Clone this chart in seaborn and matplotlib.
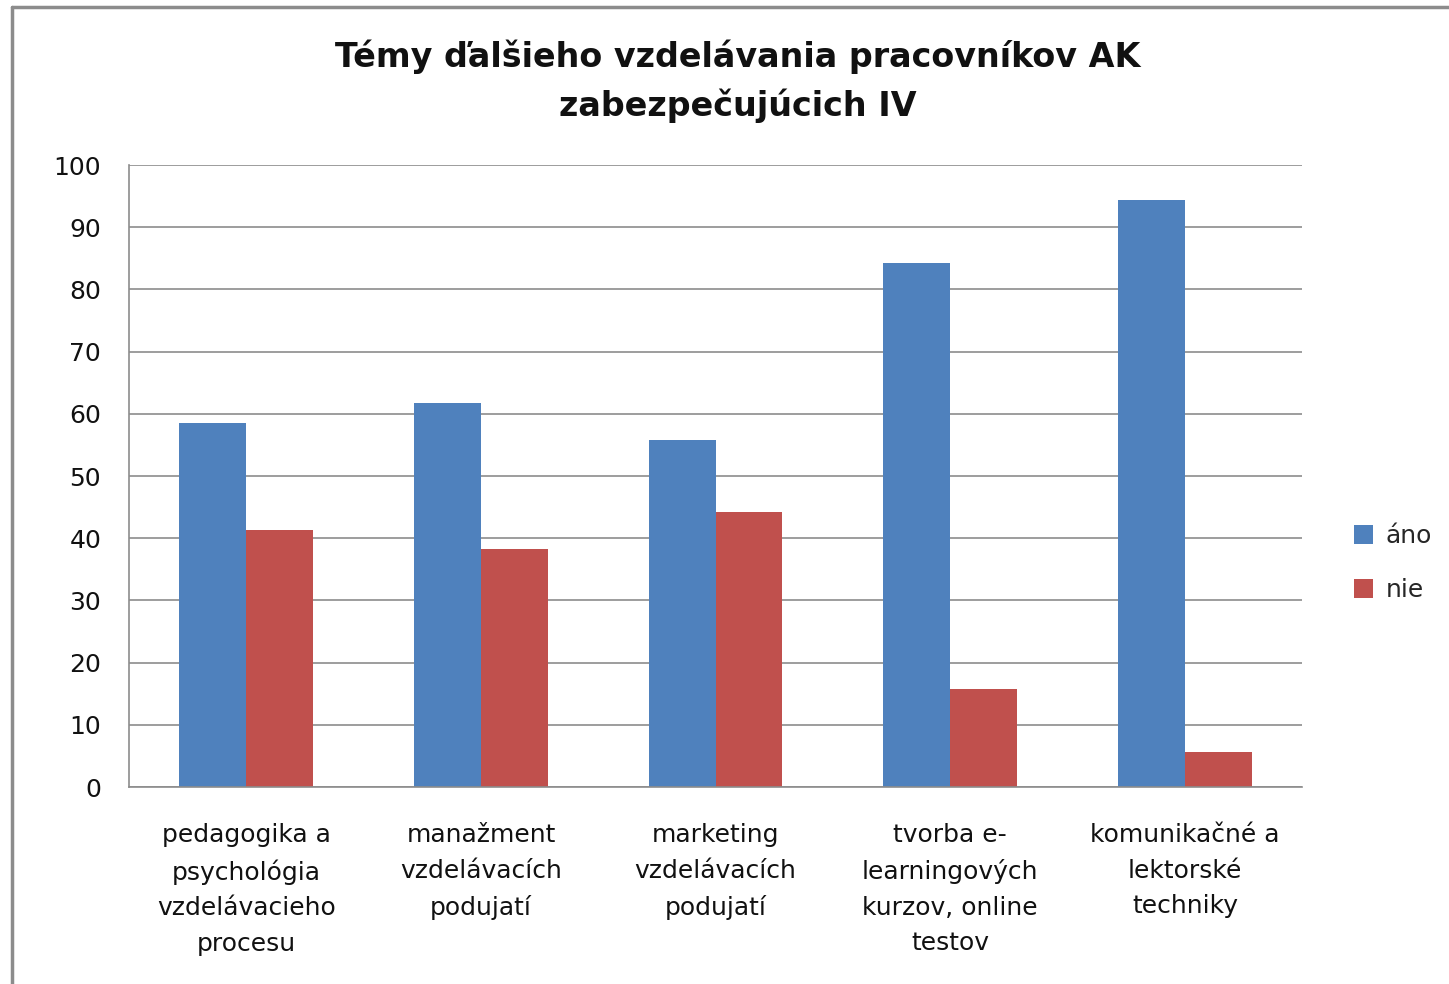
import numpy as np
import pandas as pd
import matplotlib.pyplot as plt
import seaborn as sns

categories = [
    "pedagogika a\npsychológia\nvzdelávacieho\nprocesu",
    "manažment\nvzdelávacích\npodujatí",
    "marketing\nvzdelávacích\npodujatí",
    "tvorba e-\nlearningových\nkurzov, online\ntestov",
    "komunikačné a\nlektorské\ntechniky",
]
ano = [58.6, 61.8, 55.8, 84.2, 94.3]
nie = [41.4, 38.2, 44.2, 15.8, 5.7]
series = ["áno", "nie"]
yticks = list(range(0, 101, 10))

df = pd.DataFrame({
    "kategoria": categories * 2,
    "hodnota": ano + nie,
    "odpoved": [series[0]] * len(ano) + [series[1]] * len(nie),
})

sns.set_style("white")
plt.rcParams["font.family"] = ["DejaVu Sans"]

fig = plt.figure(figsize=(14.49, 9.84), dpi=100)
ax = fig.add_axes([0.089, 0.2002, 0.8097, 0.6321])

sns.barplot(data=df, x="kategoria", y="hodnota", hue="odpoved",
            palette=["#4F81BD", "#C0504D"], width=0.57, gap=0,
            saturation=1, linewidth=0, ax=ax, legend=True)

ax.set_ylim(0, 100)
ax.set_xlim(-0.5, len(categories) - 0.5)
ax.set_yticks(yticks)
ax.yaxis.grid(True, color="#8c8c8c", linewidth=1.2)
ax.set_axisbelow(True)
ax.set_xlabel("")
ax.set_ylabel("")
for s in ["top", "right"]:
    ax.spines[s].set_visible(False)
for s in ["left", "bottom"]:
    ax.spines[s].set_color("#8c8c8c")
    ax.spines[s].set_linewidth(1.2)
ax.tick_params(axis="both", length=0, labelsize=18, colors="#111111")
ax.tick_params(axis="y", pad=20)
ax.tick_params(axis="x", pad=26)
for lab in ax.get_xticklabels():
    lab.set_multialignment("center")
    lab.set_linespacing(1.6)

leg = ax.legend(loc="center left", bbox_to_anchor=(1.025, 0.36), frameon=False,
                fontsize=18, handlelength=0.75, handleheight=0.75,
                handletextpad=0.5, labelspacing=1.2)

fig.text(0.509, 0.96, "Témy ďalšieho vzdelávania pracovníkov AK\nzabezpečujúcich IV",
         ha="center", va="top", fontsize=24, fontweight="bold", linespacing=1.55,
         color="#111111")

# frame of the chart area
fig.add_artist(plt.Line2D([12 / 1449, 12 / 1449], [0, 1 - 7 / 984],
                          color="#8c8c8c", linewidth=2.5, transform=fig.transFigure))
fig.add_artist(plt.Line2D([12 / 1449, 1], [1 - 7 / 984, 1 - 7 / 984],
                          color="#8c8c8c", linewidth=2.5, transform=fig.transFigure))

fig.savefig("out.png", dpi=100)
